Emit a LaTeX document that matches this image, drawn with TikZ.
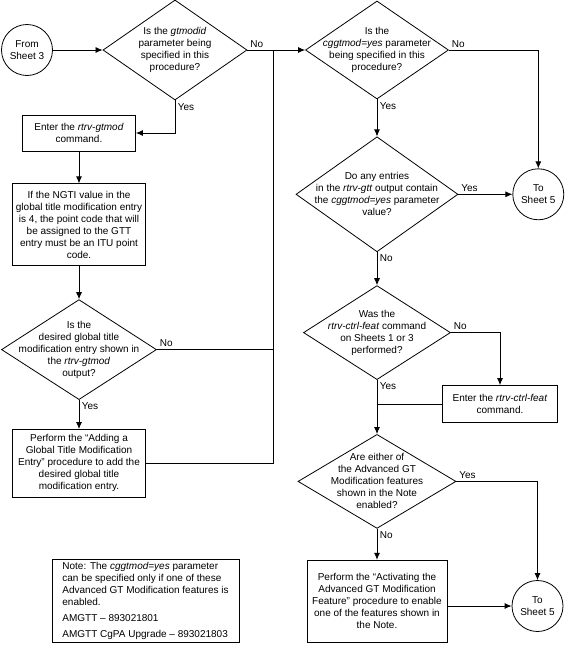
\documentclass[tikz,border=0pt]{standalone}
\usepackage{fontspec}
\setmainfont{Liberation Sans}
\usetikzlibrary{shapes.geometric, arrows.meta, positioning}

\begin{document}
\begin{tikzpicture}[
  x=1pt, y=-1pt,
  font=\fontsize{10}{12}\selectfont,
  line width=0.8pt,
  box/.style={rectangle, draw, align=center, inner sep=2pt},
  decision/.style={diamond, draw, inner sep=0pt},
  dtext/.style={align=center, inner sep=0pt},
  sheet/.style={circle, draw, align=center, minimum size=51pt, inner sep=0pt},
  arrow/.style={-{Latex[length=7pt, width=6pt]}},
  tag/.style={inner sep=2.5pt}
]
\useasboundingbox (0,0) rectangle (565,651);

% Nodes
\node (fromthree) [sheet] at (27,50) {From\\Sheet 3};
\node (gtmodid) [decision, minimum width=144pt, minimum height=100pt,
  label={[dtext]center:Is the \textit{gtmodid}\\parameter being\\specified in this\\procedure?}] at (175,50) {};
\node (enter) [box, minimum width=113pt, minimum height=36pt] at (79,133) {Enter the \textit{rtrv-gtmod}\\command.};
\node (ngti) [box, below=32pt of enter, minimum width=133pt, minimum height=82pt] {If the NGTI value in the\\global title modification entry\\is 4, the point code that will\\be assigned to the GTT\\entry must be an ITU point\\code.};
\node (shown) [decision, below=33pt of ngti, minimum width=155pt, minimum height=100pt,
  label={[dtext]center:Is the\\desired global title\\modification entry shown in\\the \textit{rtrv-gtmod}\\output?}] {};
\node (adding) [box, below=29pt of shown, minimum width=133pt, minimum height=68pt] {Perform the “Adding a\\Global Title Modification\\Entry” procedure to add the\\desired global title\\modification entry.};
\node (note) [box, align=left, minimum width=187pt, minimum height=83pt] at (145.5,600.5) {Note: The \textit{cggtmod=yes} parameter\\can be specified only if one of these\\Advanced GT Modification features is\\enabled.\\[4pt]AMGTT – 893021801\\[4pt]AMGTT CgPA Upgrade – 893021803};

\node (cggt) [decision, minimum width=143pt, minimum height=98pt,
  label={[dtext]center:Is the\\\textit{cggtmod=yes} parameter\\being specified in this\\procedure?}] at (377,50) {};
\node (entries) [decision, below=37pt of cggt, minimum width=162pt, minimum height=115pt,
  label={[dtext]center:Do any entries\\in the \textit{rtrv-gtt} output contain\\the \textit{cggtmod=yes} parameter\\value?}] {};
\node (ctrl) [decision, below=33pt of entries, minimum width=147pt, minimum height=94pt,
  label={[dtext]center:Was the\\\textit{rtrv-ctrl-feat} command\\on Sheets 1 or 3\\performed?}] {};
\node (advgt) [decision, below=54pt of ctrl, minimum width=158pt, minimum height=94pt,
  label={[dtext]center:Are either of\\the Advanced GT\\Modification features\\shown in the Note\\enabled?}] {};
\node (activ) [box, below=31pt of advgt, minimum width=140pt, minimum height=82pt] {Perform the “Activating the\\Advanced GT Modification\\Feature” procedure to enable\\one of the features shown in\\the Note.};
\node (ctrlfeat) [box, minimum width=115pt, minimum height=37pt] at (500,404) {Enter the \textit{rtrv-ctrl-feat}\\command.};
\node (tofive) [sheet, right=54pt of entries] {To\\Sheet 5};
\node (tofivealt) [sheet] at (537.5,606) {To\\Sheet 5};

\coordinate (bus) at (273,50);

% Arrows
\draw [arrow] (fromthree) -- (gtmodid);
\draw [arrow] (gtmodid.east) -- node[tag, pos=0, above right] {No} (cggt.west);
\draw [arrow] (gtmodid.south) |- node[tag, pos=0, below right] {Yes} (enter.east);
\draw [arrow] (enter) -- (ngti);
\draw [arrow] (ngti) -- (shown);
\draw [arrow] (shown.south) -- node[tag, pos=0, below right] {Yes} (adding.north);
\draw (shown.east) -- node[tag, pos=0, above right] {No} (shown.east -| bus);
\draw (bus) -- (bus |- adding.east) -- (adding.east);

\draw [arrow] (cggt.east) -| node[tag, pos=0, above right] {No} (tofive.north);
\draw [arrow] (cggt.south) -- node[tag, pos=0, below right] {Yes} (entries.north);
\draw [arrow] (entries.east) -- node[tag, pos=0, above right] {Yes} (tofive.west);
\draw [arrow] (entries.south) -- node[tag, pos=0, below right] {No} (ctrl.north);
\draw [arrow] (ctrl.east) -| node[tag, pos=0, above right] {No} (ctrlfeat.north);
\draw [arrow] (ctrl.south) -- node[tag, pos=0, below right] {Yes} (advgt.north);
\draw (ctrlfeat.west) -- (ctrlfeat.west -| ctrl.south);
\draw [arrow] (advgt.east) -| node[tag, pos=0, above right] {Yes} (tofivealt.north);
\draw [arrow] (advgt.south) -- node[tag, pos=0, below right] {No} (activ.north);
\draw [arrow] (tofivealt -| activ.east) -- (tofivealt.west);

\end{tikzpicture}
\end{document}
